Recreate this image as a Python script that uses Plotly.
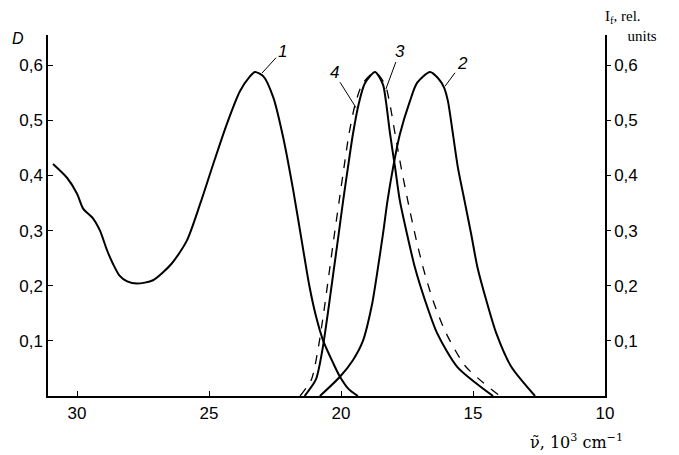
import plotly.graph_objects as go

# Curve 1: absorption (D)
x1 = [30.91, 30.38, 30.0, 29.77, 29.39, 29.13, 28.86, 28.64, 28.4, 28.1, 27.73, 27.12, 26.42,
      25.84, 25.34, 24.84, 24.33, 23.83, 23.45, 23.26, 22.94, 22.56, 22.19,
      21.81, 21.49, 21.2, 20.95, 20.68, 20.3, 20.04, 19.7, 19.36]
y1 = [0.421, 0.396, 0.367, 0.34, 0.322, 0.3, 0.264, 0.24, 0.219, 0.208, 0.204, 0.21, 0.24,
      0.282, 0.348, 0.421, 0.493, 0.553, 0.58, 0.588, 0.58, 0.541, 0.469,
      0.373, 0.282, 0.2, 0.145, 0.101, 0.06, 0.035, 0.012, 0.0]

# Curve 2: fluorescence
x2 = [20.8, 20.04, 19.55, 19.17, 18.83, 18.6, 18.41, 18.24, 18.03, 17.77, 17.39, 17.12,
      16.63, 16.33, 16.1, 15.95, 15.76, 15.57, 15.32, 15.07, 14.83, 14.5, 14.12, 13.55, 12.65]
y2 = [0.0, 0.035, 0.065, 0.1, 0.165, 0.233, 0.294, 0.354, 0.414, 0.475, 0.535, 0.568,
      0.588, 0.577, 0.56, 0.535, 0.475, 0.414, 0.354, 0.294, 0.233, 0.174, 0.114, 0.053, 0.0]

# Curve 3: fluorescence (solid)
x3 = [21.38, 20.95, 20.7, 20.5, 20.3, 20.1, 19.92, 19.74, 19.55, 19.33, 19.1, 18.71,
      18.41, 18.3, 18.14, 17.95, 17.77, 17.5, 17.2, 16.82, 16.36, 15.6, 14.24]
y3 = [0.0, 0.03, 0.085, 0.15, 0.22, 0.29, 0.354, 0.414, 0.475, 0.53, 0.567, 0.588,
      0.565, 0.535, 0.475, 0.414, 0.354, 0.294, 0.233, 0.174, 0.114, 0.053, 0.0]

# Curve 4: fluorescence (dashed)
x4 = [21.55, 21.12, 20.87, 20.66, 20.46, 20.26, 20.07, 19.89, 19.7, 19.46, 19.18, 18.71,
      18.33, 18.17, 17.95, 17.72, 17.47, 17.2, 16.89, 16.52, 16.02, 15.27, 13.98]
y4 = [0.0, 0.03, 0.085, 0.15, 0.22, 0.29, 0.354, 0.414, 0.475, 0.53, 0.567, 0.588,
      0.565, 0.535, 0.475, 0.414, 0.354, 0.294, 0.233, 0.174, 0.114, 0.053, 0.0]

x_ticks = [30, 25, 20, 15, 10]
x_ticklabels = ["30", "25", "20", "15", "10"]
y_ticks = [0.1, 0.2, 0.3, 0.4, 0.5, 0.6]
y_ticklabels = ["0,1", "0,2", "0,3", "0,4", "0,5", "0,6"]

curve_labels = ["1", "2", "3", "4"]
label_points = [(22.99, 0.586), (16.06, 0.562), (18.3, 0.557), (19.43, 0.523)]

fig = go.Figure()
line_solid = dict(color="black", width=2, shape="spline", smoothing=0.7)
fig.add_trace(go.Scatter(x=x1, y=y1, mode="lines", line=line_solid, showlegend=False))
fig.add_trace(go.Scatter(x=x2, y=y2, mode="lines", line=line_solid, showlegend=False))
fig.add_trace(go.Scatter(x=x3, y=y3, mode="lines", line=line_solid, showlegend=False))
fig.add_trace(go.Scatter(x=x4, y=y4, mode="lines",
                         line=dict(color="black", width=1.3, dash="dash", shape="spline", smoothing=0.7),
                         showlegend=False))
# invisible trace for right axis
fig.add_trace(go.Scatter(x=[x_ticks[0]], y=[0], yaxis="y2", mode="markers",
                         marker=dict(opacity=0), showlegend=False, hoverinfo="skip"))

tick_font = dict(family="Liberation Sans", size=17, color="black")
# page body has an 8px margin, so the figure is shifted by 8px
fig.update_layout(
    width=671, height=447,
    margin=dict(l=40, r=74, t=27, b=59),
    plot_bgcolor="white", paper_bgcolor="white",
    xaxis=dict(range=[31.1, 10], tickvals=x_ticks, ticktext=x_ticklabels,
               showline=True, linecolor="black", linewidth=1.5, mirror=False,
               ticks="inside", ticklen=5, tickcolor="black", showgrid=False,
               zeroline=False, tickfont=tick_font, ticklabelstandoff=1),
    yaxis=dict(range=[0, 0.655], tickvals=y_ticks, ticktext=y_ticklabels,
               showline=True, linecolor="black", linewidth=1.5,
               ticks="inside", ticklen=5, tickcolor="black", showgrid=False,
               zeroline=False, tickfont=tick_font),
    yaxis2=dict(range=[0, 0.655], tickvals=y_ticks, ticktext=y_ticklabels,
                overlaying="y", side="right",
                showline=True, linecolor="black", linewidth=1.5,
                ticks="outside", ticklen=4, tickcolor="black", showgrid=False,
                zeroline=False, tickfont=tick_font),
)

offsets = [(20, -22), (17, -23), (14, -38), (-22, -35)]
for lab, (px, py), (ax, ay) in zip(curve_labels, label_points, offsets):
    fig.add_annotation(x=px, y=py, xref="x", yref="y", text="<i>" + lab + "</i>", showarrow=True,
                       arrowhead=0, arrowwidth=1, arrowcolor="black", ax=ax, ay=ay,
                       font=dict(family="Liberation Sans", size=17, color="black"))

fig.add_annotation(x=-0.054, y=0.989, xref="paper", yref="paper", text="<i>D</i>",
                   xanchor="center", yanchor="middle",
                   showarrow=False, font=dict(family="Liberation Sans", size=16, color="black"))
fig.add_annotation(x=0.998, y=1.025, xref="paper", yref="paper", xanchor="left", yanchor="middle",
                   align="left", borderpad=0,
                   text="I<sub>f</sub>, rel.<br>&nbsp;&nbsp;&nbsp;&nbsp;&nbsp;&nbsp;units",
                   showarrow=False, font=dict(family="Liberation Serif", size=15, color="black"))
fig.add_annotation(x=0.948, y=-0.127, xref="paper", yref="paper", xanchor="center", yanchor="middle",
                   text="\u03bd\u0303, 10<sup>3</sup> cm<sup>\u22121</sup>", showarrow=False,
                   font=dict(family="DejaVu Serif", size=16, color="black"))

fig.write_html("out.html")
